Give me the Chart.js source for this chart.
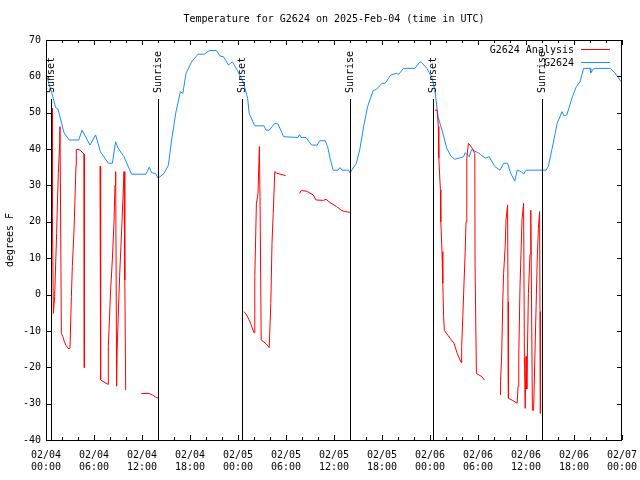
<!DOCTYPE html>
<html>
<head>
<meta charset="utf-8">
<title>Temperature for G2624</title>
<script src="https://cdn.jsdelivr.net/npm/chart.js@4.4.1/dist/chart.umd.min.js"></script>
<style>
  html, body { margin: 0; padding: 0; background: #fff; }
  #wrap { width: 640px; height: 480px; }
</style>
</head>
<body>
<div id="wrap"><canvas id="chart" width="640" height="480"></canvas></div>
<script>
(function () {
  'use strict';

  const FONT = '"DejaVu Sans Mono", "Liberation Mono", monospace';

  // hours since 2025-02-04 00:00 UTC
  const obsHours = [0, 0.35, 0.8, 1.2, 1.5, 2.25, 2.9, 4.1, 4.5, 5.5, 6.2, 6.8, 7.8, 8.3, 8.7, 9.0, 9.75,
    10.7, 12.5, 12.9, 13.2, 13.7, 14.0, 14.25, 14.75, 15.3, 15.7, 16.25, 16.8, 17.1, 17.5, 18.2, 19.0,
    19.8, 20.4, 21.3, 21.75, 22.2, 22.8, 23.3, 24.0, 24.7, 25.2, 25.4, 26.1, 27.25, 27.5, 27.9, 28.6,
    29.0, 29.7, 31.5, 31.7, 31.9, 32.5, 33.2, 33.9, 34.2, 34.9, 35.2, 35.5, 35.9, 36.5, 36.75, 37.0,
    37.8, 38.0, 38.8, 39.25, 39.7, 40.2, 40.9, 41.3, 42.0, 42.4, 43.1, 43.8, 44.1, 44.7, 46.1, 46.75,
    46.96, 47.6, 48.2, 48.6, 49.0, 49.5, 50.1, 50.6, 51.1, 52.2, 52.4, 52.9, 53.2, 54.0, 54.9, 55.4,
    56.1, 56.75, 57.2, 57.7, 58.1, 58.6, 58.9, 59.4, 59.7, 60.0, 62.5, 62.8, 63.4, 63.9, 64.5, 64.75,
    65.1, 65.8, 66.3, 66.75, 67.2, 68.0, 68.1, 68.5, 70.5, 71.1, 71.9, 72];
  const obsTemps = [61, 58, 54.9, 51.4, 51, 44.5, 42.5, 42.5, 45.2, 41.1, 43.9, 39.3, 36.1, 36.1, 42, 40.3, 37.9,
    33.1, 33.1, 35, 33.5, 33.3, 32, 32.4, 33.3, 35.6, 42.5, 50.3, 55.8, 55.3, 60.8, 64, 66.1,
    66.1, 67.1, 67.1, 65.6, 65.4, 63.1, 64, 61.3, 58.1, 54, 49.8, 46.4, 46.4, 45.2, 45.2, 47.1,
    46.9, 43.4, 43.2, 44, 43.2, 43.2, 41.1, 41.1, 42.3, 42.3, 40.7, 37.5, 34.2, 34.2, 34.9, 34.2,
    34.2, 33.5, 36.1, 40.2, 46.2, 51.7, 56.1, 56.4, 58.1, 58.1, 60.4, 60.8, 60.6, 62.2, 62.2, 64,
    63.8, 62.2, 59.9, 56.5, 48.9, 45.2, 40.2, 38.1, 37.2, 37.9, 39, 37.9, 39.9, 39, 37.5, 37.9,
    35.2, 34.2, 36.1, 36.1, 33.3, 31.2, 34.2, 33.8, 33.1, 34.2, 34.2, 35.3, 41.6, 47.1, 50.3, 49.1,
    49.4, 54.4, 57.2, 58.5, 62.2, 62.2, 61, 62.2, 62.2, 61, 58.5, 58];

  // analysis series, null = no data
  const anaHours = [0.79, 0.8, 0.92, 1.08, 1.33, 1.42, 1.54, 1.71, 1.75, 1.92, 2.1, 2.3, 2.5, 2.75, 3.0,
    3.17, 3.29, 3.5, 3.625, 3.75, 3.79, 4.125, 4.5, 4.75, 4.79, 5.5,
    6.75, 6.83, 7.75, 7.79, 8.08, 8.29, 8.5, 8.625, 8.71, 8.83, 8.9, 9.0, 9.2, 9.5, 9.625, 9.75, 9.85, 9.96, 10.5,
    11.9, 12.9, 13.3, 13.7, 14.0, 14.5,
    24.75, 25.08, 25.5, 26.0, 26.1, 26.3, 26.5, 26.67, 26.75, 26.9, 27.5, 27.9, 28.1, 28.25, 28.4, 28.6,
    28.8, 29.96, 30.8,
    31.7, 31.9, 32.6, 33.4, 33.75, 34.7, 35.0, 35.5, 36.3, 36.96, 37.4, 38.0, 38.5,
    48.6, 48.9, 49.04, 49.1, 49.3, 49.35, 49.5, 49.6, 49.7, 49.8, 50.5, 51.0, 51.4, 51.9, 51.96, 52.1,
    52.25, 52.4, 52.5, 52.6, 52.8, 53.3, 53.6, 53.63, 53.8, 54.5, 54.8, 55.5,
    56.8, 56.82, 56.96, 57.1, 57.2, 57.4, 57.5, 57.7, 57.75, 57.8, 58.4, 58.9, 59.0, 59.1, 59.25, 59.5,
    59.7, 59.8, 59.9, 60.0, 60.1, 60.3, 60.5, 60.6, 60.8, 60.95, 61.1, 61.2, 61.3, 61.4, 61.55, 61.7,
    61.75, 61.8];
  const anaTemps = [51.2, 23.2, -5.2, -0.6, 16.8, 24.6, 33.3, 41.6, 46.2, -10.7, -11.5, -13, -14, -14.8, -14.8,
    -0.6, 7.7, 17.7, 26.5, 35.6, 39.9, 39.9, 39.2, 38.6, -20.1, null,
    35.3, -23.5, -24.7, -14.3, 1.25, 9.5, 20, 30.1, 33.8, -25.2, -15, -7.9, 5, 20, 27, 33.8, 4, -26.3, null,
    -27.2, -27.2, -27.6, -28.2, -28.5, null,
    -4.7, -5.6, -7.5, -10.5, 4.9, 25.1, 27.8, 40.7, 26.9, -12.5, -13.5, -14.6, -2.4, 14.1, 22.3, 33.8,
    33.4, 32.7, null,
    27.8, 28.6, 28.4, 27.4, 26, 25.9, 26.2, 25.3, 24.2, 23.1, 22.8, 22.6, null,
    50.7, 50.7, 46.2, 37.5, 28.8, 20, 11.8, 3.1, -6.1, -9.9, -12, -13.4, -16.2, -18.7, -14.3, -6.1,
    3.1, 11.8, 20, 37.5, 41.6, 40.2, 38.8, 8.6, -21.7, -22.6, -23.5, null,
    -27.6, -24, -16.6, -1.5, 5.8, 13.2, 20.5, 24.6, -2, -28.5, -29.2, -29.9, -25.3, -16.6, 2.2, 20.5,
    25.1, -17.1, -31.3, -17, -26, 0.3, 11, 23.2, -31.8, -31.8, -18, -8.9, -0.1, 9.5, 18.2, 22.8,
    -4.7, -32.7];

  const sunHours = [0.58, 14.04, 24.55, 38.0, 48.42, 62.04];
  const sunLabels = ['Sunset', 'Sunrise', 'Sunset', 'Sunrise', 'Sunset', 'Sunrise'];

  const xTickHours = [0, 6, 12, 18, 24, 30, 36, 42, 48, 54, 60, 66, 72];
  const xTickDates = ['02/04', '02/04', '02/04', '02/04', '02/05', '02/05', '02/05', '02/05',
    '02/06', '02/06', '02/06', '02/06', '02/07'];
  const xTickTimes = ['00:00', '06:00', '12:00', '18:00', '00:00', '06:00', '12:00', '18:00',
    '00:00', '06:00', '12:00', '18:00', '00:00'];

  const legendLabels = ['G2624 Analysis', 'G2624'];
  const seriesColors = ['#ff0000', '#1a8cff'];

  function toPoints(xs, ys) {
    return xs.map((x, i) => ({ x: x, y: ys[i] }));
  }

  const frame = {
    id: 'frame',
    afterDatasetsDraw(chart) {
      const ctx = chart.ctx;
      const a = chart.chartArea;
      const xs = chart.scales.x;
      const ys = chart.scales.y;
      ctx.save();

      // sunrise / sunset markers
      ctx.strokeStyle = '#000';
      ctx.lineWidth = 1;
      ctx.fillStyle = '#000';
      ctx.font = '10px ' + FONT;
      sunHours.forEach((h, i) => {
        const px = Math.round(xs.getPixelForValue(h)) + 0.5;
        ctx.beginPath();
        ctx.moveTo(px, 99);
        ctx.lineTo(px, a.bottom);
        ctx.stroke();
        ctx.save();
        ctx.translate(px, 93);
        ctx.rotate(-Math.PI / 2);
        ctx.textAlign = 'left';
        ctx.textBaseline = 'middle';
        ctx.fillText(sunLabels[i], 0, 0);
        ctx.restore();
      });

      // border
      ctx.strokeRect(a.left + 0.5, a.top + 0.5, a.right - a.left - 1, a.bottom - a.top);

      // inward ticks
      ctx.beginPath();
      for (let h = 0; h <= 72; h += 2) {
        const px = Math.round(xs.getPixelForValue(h)) + 0.5;
        const len = h % 6 === 0 ? 5 : 3;
        ctx.moveTo(px, a.bottom);
        ctx.lineTo(px, a.bottom - len);
        ctx.moveTo(px, a.top);
        ctx.lineTo(px, a.top + len);
      }
      for (let v = -40; v <= 70; v += 10) {
        const py = Math.round(ys.getPixelForValue(v)) + 0.5;
        ctx.moveTo(a.left, py);
        ctx.lineTo(a.left + 5, py);
        ctx.moveTo(a.right, py);
        ctx.lineTo(a.right - 5, py);
      }
      ctx.stroke();

      // legend
      ctx.textAlign = 'right';
      ctx.textBaseline = 'middle';
      legendLabels.forEach((lab, i) => {
        const y = 50 + i * 13;
        ctx.fillStyle = '#000';
        ctx.fillText(lab, 574, y);
        ctx.strokeStyle = seriesColors[i];
        ctx.beginPath();
        ctx.moveTo(581, y - 0.5);
        ctx.lineTo(610, y - 0.5);
        ctx.stroke();
      });

      // title and y axis title
      ctx.fillStyle = '#000';
      ctx.textAlign = 'center';
      ctx.fillText('Temperature for G2624 on 2025-Feb-04 (time in UTC)', (a.left + a.right) / 2, 19);
      ctx.save();
      ctx.translate(10, (a.top + a.bottom) / 2);
      ctx.rotate(-Math.PI / 2);
      ctx.fillText('degrees F', 0, 0);
      ctx.restore();

      ctx.restore();
    }
  };

  new Chart(document.getElementById('chart').getContext('2d'), {
    type: 'line',
    data: {
      datasets: [{
        label: legendLabels[0],
        data: toPoints(anaHours, anaTemps),
        borderColor: seriesColors[0],
        borderWidth: 1,
        pointRadius: 0,
        tension: 0,
        spanGaps: false
      }, {
        label: legendLabels[1],
        data: toPoints(obsHours, obsTemps),
        borderColor: seriesColors[1],
        borderWidth: 1,
        pointRadius: 0,
        tension: 0
      }]
    },
    options: {
      responsive: false,
      animation: false,
      devicePixelRatio: 1,
      layout: { padding: { top: 40, right: 18, left: 0, bottom: 0 } },
      plugins: {
        legend: { display: false },
        title: { display: false },
        tooltip: { enabled: false }
      },
      scales: {
        x: {
          type: 'linear',
          min: 0,
          max: 72,
          grid: { display: false, drawTicks: false },
          border: { display: false },
          afterFit: s => { s.height = 40; s.paddingLeft = 0; s.paddingRight = 0; },
          afterBuildTicks: s => { s.ticks = xTickHours.map(v => ({ value: v })); },
          ticks: {
            color: '#000',
            font: { family: FONT, size: 10 },
            padding: 9,
            maxRotation: 0,
            autoSkip: false,
            callback: v => {
              const i = xTickHours.indexOf(v);
              return i < 0 ? '' : [xTickDates[i], xTickTimes[i]];
            }
          }
        },
        y: {
          min: -40,
          max: 70,
          grid: { display: false, drawTicks: false },
          border: { display: false },
          afterFit: s => { s.width = 46; s.paddingTop = 0; s.paddingBottom = 0; },
          ticks: {
            stepSize: 10,
            color: '#000',
            font: { family: FONT, size: 10 },
            padding: 5
          }
        }
      }
    },
    plugins: [frame]
  });
})();
</script>
</body>
</html>
